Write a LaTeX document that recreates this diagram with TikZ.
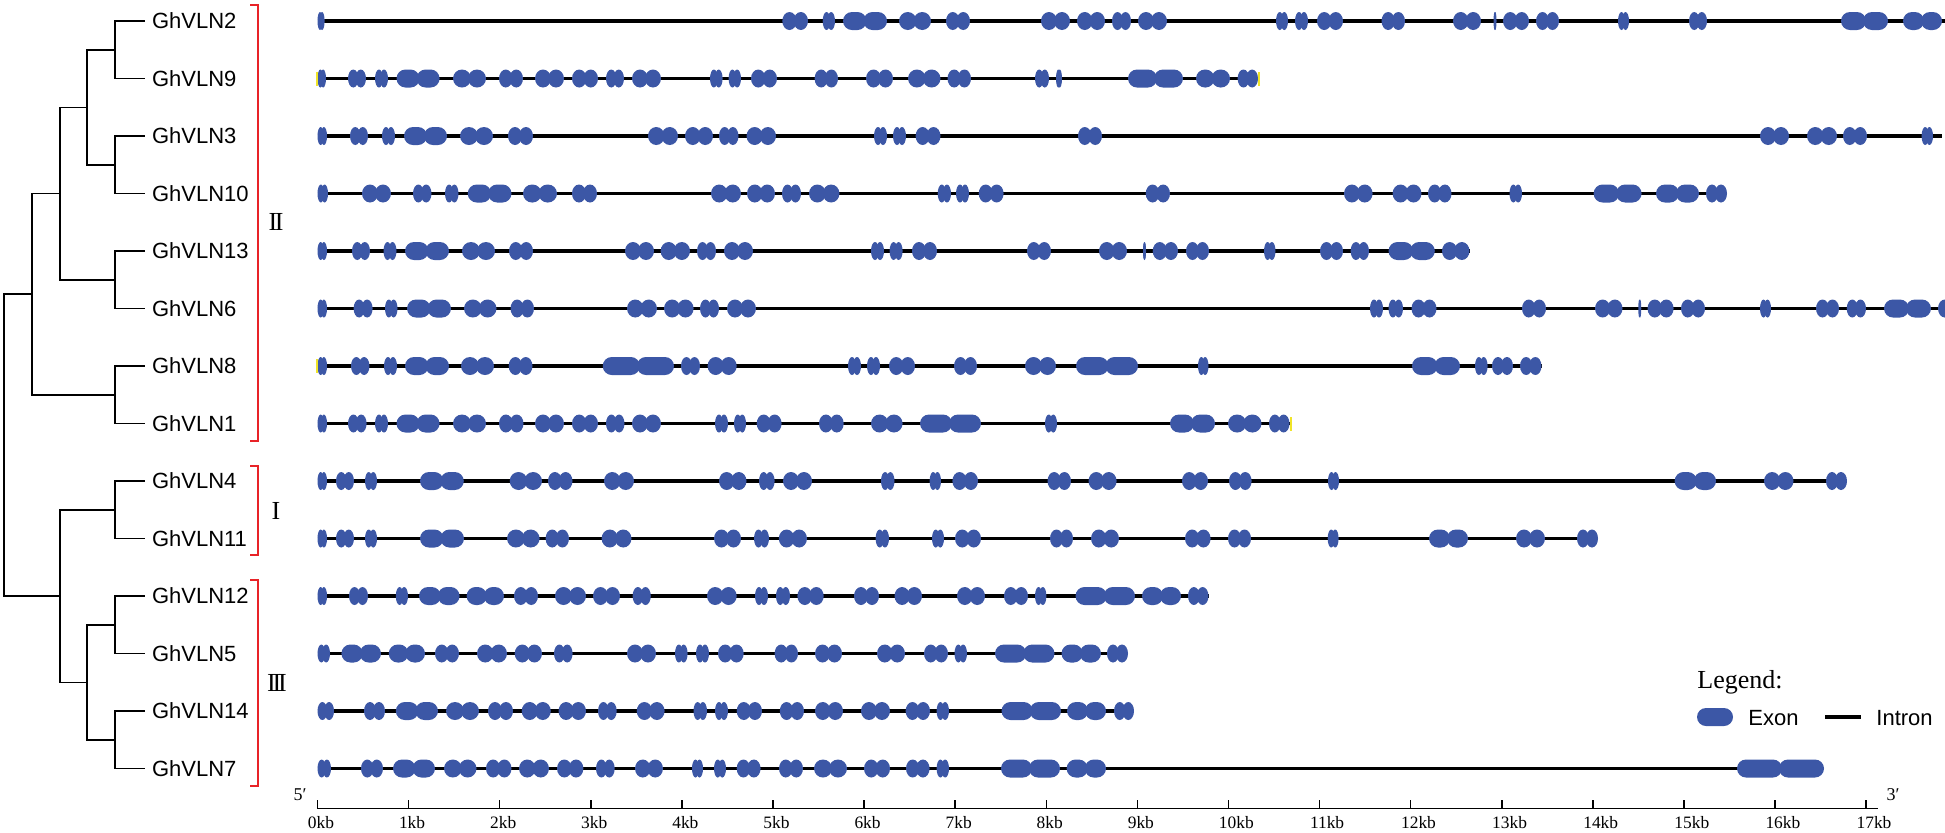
\documentclass[tikz,border=0pt]{standalone}
\usepackage{fontspec}
\setmainfont{Liberation Serif}
\setsansfont{Liberation Sans}
\definecolor{exonc}{RGB}{60,87,166}
\definecolor{brred}{RGB}{232,35,40}
\definecolor{utrc}{RGB}{240,228,40}
\tikzset{
  exon/.style={fill=exonc},
  intron/.style={draw=black,line width=1.6pt},
  tree/.style={draw=black,line width=0.75pt},
  brk/.style={draw=brred,line width=1.4pt},
  glab/.style={anchor=west,inner sep=0pt,outer sep=3.5pt,font=\sffamily\fontsize{11}{13}\selectfont},
  roman/.style={inner sep=0pt,font=\fontsize{13}{15}\selectfont},
  klab/.style={inner sep=0pt,anchor=west,font=\fontsize{8.7}{10}\selectfont},
  axisl/.style={draw=black,line width=0.75pt},
}
\newcommand\exhalf[3]{%
  \pgfmathsetmacro\hA{#2}\pgfmathsetmacro\hB{#3}%
  \pgfmathsetmacro\hW{\hB-\hA}\pgfmathsetmacro\hC{(\hA+\hB)/2}%
  \ifdim\hW pt<18pt
    \fill[exon] (\hC,#1) ellipse [x radius=\hW/2, y radius=9];
  \else
    \fill[exon,rounded corners=4.5pt] (\hA,#1-9) rectangle (\hB,#1+9);
  \fi}
\newcommand\ex[3]{%
  \pgfmathsetmacro\eM{(#2+#3)/2}%
  \pgfmathsetmacro\eL{\eM+1.5}\pgfmathsetmacro\eR{\eM-1.5}%
  \exhalf{#1}{#2}{\eL}\exhalf{#1}{\eR}{#3}}
\newcommand\generow[3]{% y, end, list
  \draw[intron] (317.5,#1) -- (#2,#1);
  \foreach \a/\b in {#3} {\ex{#1}{\a}{\b}}}
\begin{document}
\begin{tikzpicture}[x=0.5pt,y=-0.5pt]
\useasboundingbox (0,0) rectangle (1945,832);
\begin{scope}
\clip (0,0) rectangle (1945,832);
% gene structures
\generow{21}{1945}{317.5/324.6, 782.3/808, 822.7/835, 843/887, 899/931, 946/970, 1041/1070, 1077/1105, 1112/1131, 1138/1167, 1276/1288, 1295/1308, 1317/1343, 1381.5/1405, 1453/1481, 1494/1496, 1503/1529, 1536/1559, 1618/1629, 1689/1707, 1841/1888, 1903/1942}
\generow{78.5}{1258}{317.5/326, 348/366, 375/388, 396.5/439.6, 453/486, 499/523, 535/564, 572/598, 606/624, 632/661, 710/722.6, 728.6/741, 751/777, 814.6/838, 866/893, 908/940.5, 947.5/971, 1035/1049, 1056/1062, 1128/1183, 1196/1230, 1237.6/1258}
\generow{136}{1941.5}{317.5/327, 350/368, 382/395, 404/447, 460/493, 508/533, 648/678, 685/713, 719/738.5, 746.5/776, 874/887, 893/906, 915.6/940.5, 1078/1102, 1760/1789, 1807/1837, 1843/1867, 1921.6/1933}
\generow{193.5}{1727}{317.5/328, 362/391, 413/431.5, 445/458.5, 467.7/511.5, 523/557, 572/597, 711/741, 747/775, 782/801, 809/839.5, 937.7/951, 956/969, 978.7/1003.6, 1145.7/1170, 1344/1372.6, 1392.6/1421.5, 1428/1451.5, 1509.5/1522, 1593.6/1641.6, 1656/1699, 1706/1727}
\generow{251}{1469.5}{317.5/327, 352/370, 383.5/396.5, 405/449, 462/495, 509/533, 625/654, 660.6/690, 697/716, 724/753, 871/884, 889.6/902.6, 912/937, 1027/1051, 1099/1127, 1143/1146, 1152.7/1178, 1186/1209, 1264/1275.5, 1320/1343, 1350.6/1369, 1388.5/1434.8, 1442/1469.5}
\generow{308.5}{1945}{317.5/327, 353.6/372.6, 385/397.5, 407/451, 464/496.5, 510.5/534, 627/657, 664/693.6, 700/719, 727/756, 1370/1383, 1388.5/1403, 1411.5/1436.5, 1522/1546, 1595/1622.5, 1639/1640.5, 1647.5/1673.6, 1681/1705, 1760/1771, 1816/1839, 1846.7/1866, 1884/1931, 1938/1962}
\generow{366}{1541.5}{317.5/327, 351/369.5, 384/397, 405/449, 461/494, 508.7/532.5, 602.7/674, 681/700, 707.6/736.7, 848/861, 867/880, 889/915, 954/977, 1025/1056, 1076/1138, 1198/1208.5, 1412/1460, 1475/1487.6, 1492/1513, 1520/1541.5}
\generow{423.5}{1289.5}{317.5/327, 348/366.6, 375/388, 396.5/439.6, 453/486, 499/523.5, 535/564, 572/598, 606/624.5, 632/661, 715/728, 734/746, 756.7/781.6, 819/843.7, 871/902.6, 920/981, 1045/1057, 1170/1215, 1228/1261.5, 1269/1289.5}
\generow{481}{1847}{317.5/327, 336/354, 365/377, 420/463.8, 509.7/542, 548/572.5, 604/634, 719/746.5, 759/774.6, 783/812, 881/894.5, 929.6/941, 952.4/978, 1047.5/1071, 1088.5/1116.6, 1182/1208, 1229/1251.6, 1328/1339, 1674.6/1716, 1764/1793.5, 1826/1847}
\generow{538.5}{1598}{317.5/327, 336/354, 365/377, 420/464, 507/539.6, 545.6/569, 601.6/631.5, 714/741, 754/769, 778.8/807, 875.6/889, 932/944, 955/981, 1050/1073, 1091/1119, 1185/1210.6, 1228/1251, 1327.7/1338.6, 1429/1468, 1516/1545, 1577/1598}
\generow{596}{1208.5}{317.5/327, 349/368, 395.8/408, 419/459.6, 466.6/504, 514/538, 555/586, 593/620, 632.6/650.8, 707/736.7, 755/768, 776/790, 797.4/823.7, 854/879, 894.5/922, 957/985, 1004/1028, 1035/1046.4, 1075.5/1135, 1142/1181, 1188/1208.5}
\generow{653.5}{1128}{317.5/330, 341.4/381, 388.7/425, 435/459, 477/507, 514.7/542, 554/572.6, 627/656, 675/687.6, 696/709, 718/743.7, 774.6/798, 815/842, 877/905, 924/948, 954.5/967, 995/1054.5, 1061.5/1101, 1107/1128}
\generow{711}{1134}{317.5/334, 364/385, 395.8/438, 446/479, 488/513, 521.7/550.8, 558.5/586, 598/616.7, 636.7/664.6, 693.5/707, 715/728, 736.7/762, 779.8/804, 815/843, 861/890, 905.6/930, 936.6/949, 1001.5/1061, 1067/1106, 1114/1134}
\generow{768.5}{1824}{317.5/331, 361/383, 393/435, 444/476.5, 486/511.5, 519/549, 557/583.4, 596/614.7, 635/663, 692/703, 714/726, 736.7/760.6, 779/803, 814/847, 864/890, 906/929.6, 936.6/949, 1001/1060, 1066.6/1106, 1737/1824}
% UTR specks
\fill[utrc] (315.5,71.5) rectangle (317.5,85.5);
\fill[utrc] (315.5,359) rectangle (317.5,373);
\fill[utrc] (1258,71.5) rectangle (1260,85.5);
\fill[utrc] (1289.5,416.5) rectangle (1291.5,430.5);
\end{scope}
% gene labels
\node[glab] (n2)  at (145,21)    {GhVLN2};
\node[glab] (n9)  at (145,78.5)  {GhVLN9};
\node[glab] (n3)  at (145,136)   {GhVLN3};
\node[glab] (n10) at (145,193.5) {GhVLN10};
\node[glab] (n13) at (145,251)   {GhVLN13};
\node[glab] (n6)  at (145,308.5) {GhVLN6};
\node[glab] (n8)  at (145,366)   {GhVLN8};
\node[glab] (n1)  at (145,423.5) {GhVLN1};
\node[glab] (n4)  at (145,481)   {GhVLN4};
\node[glab] (n11) at (145,538.5) {GhVLN11};
\node[glab] (n12) at (145,596)   {GhVLN12};
\node[glab] (n5)  at (145,653.5) {GhVLN5};
\node[glab] (n14) at (145,711)   {GhVLN14};
\node[glab] (n7)  at (145,768.5) {GhVLN7};
% tree
\coordinate (tA) at (115,49.75);
\coordinate (tB) at (115,164.75);
\coordinate (tAB) at (87,107.25);
\coordinate (tC) at (115,279.75);
\coordinate (tABC) at (60,193.5);
\coordinate (tD) at (115,394.75);
\coordinate (tABCD) at (32,294.1);
\coordinate (tE) at (115,509.75);
\coordinate (tF) at (115,624.75);
\coordinate (tG) at (115,739.75);
\coordinate (tFG) at (87,682.25);
\coordinate (tEFG) at (60,596);
\coordinate (root) at (4,445);
\draw[tree] (tA) |- (n2);  \draw[tree] (tA) |- (n9);
\draw[tree] (tB) |- (n3);  \draw[tree] (tB) |- (n10);
\draw[tree] (tC) |- (n13); \draw[tree] (tC) |- (n6);
\draw[tree] (tD) |- (n8);  \draw[tree] (tD) |- (n1);
\draw[tree] (tE) |- (n4);  \draw[tree] (tE) |- (n11);
\draw[tree] (tF) |- (n12); \draw[tree] (tF) |- (n5);
\draw[tree] (tG) |- (n14); \draw[tree] (tG) |- (n7);
\draw[tree] (tAB) |- (tA); \draw[tree] (tAB) |- (tB);
\draw[tree] (tABC) |- (tAB); \draw[tree] (tABC) |- (tC);
\draw[tree] (tABCD) |- (tABC); \draw[tree] (tABCD) |- (tD);
\draw[tree] (tFG) |- (tF); \draw[tree] (tFG) |- (tG);
\draw[tree] (tEFG) |- (tE); \draw[tree] (tEFG) |- (tFG);
\draw[tree] (root) |- (tABCD); \draw[tree] (root) |- (tEFG);
% brackets
\draw[brk] (250,5) -- (258,5) -- (258,441) -- (250,441);
\draw[brk] (250,466) -- (258,466) -- (258,555) -- (250,555);
\draw[brk] (250,580) -- (258,580) -- (258,786) -- (250,786);
\node[roman] (rII) at (276,222) {I\kern-1.2pt I};
\node[roman] (rI) at (276,511) {I};
\node[roman] (rIII) at (277,683) {I\kern-1.6pt I\kern-1.6pt I};
% axis
\draw[axisl] (317.5,808.5) -- (1878,808.5);
\foreach \kk in {0,...,17} {
  \pgfmathsetmacro\tx{317.5+\kk*91.1}
  \draw[axisl] (\tx,808.5) -- (\tx,799.5);
  \node[klab] (k\kk) at (\tx-10,823) {\kk kb};
}
\node[inner sep=0pt,font=\fontsize{9}{11}\selectfont] (p5) at (300,795) {5′};
\node[inner sep=0pt,font=\fontsize{9}{11}\selectfont] (p3) at (1893,795) {3′};
% legend
\node[anchor=west,inner sep=0pt,font=\fontsize{13}{15}\selectfont] (leg) at (1697,682) {Legend:};
\fill[exon,rounded corners=4.5pt] (1697,708) rectangle (1733,726);
\node[anchor=west,inner sep=0pt,font=\sffamily\fontsize{11}{13}\selectfont] (lex) at (1748,718) {Exon};
\coordinate (li1) at (1825,717);
\coordinate (li2) at (1861,717);
\draw[intron] (li1) -- (li2);
\node[anchor=west,inner sep=0pt,font=\sffamily\fontsize{11}{13}\selectfont] (lin) at (1876,718) {Intron};
\end{tikzpicture}
\end{document}
